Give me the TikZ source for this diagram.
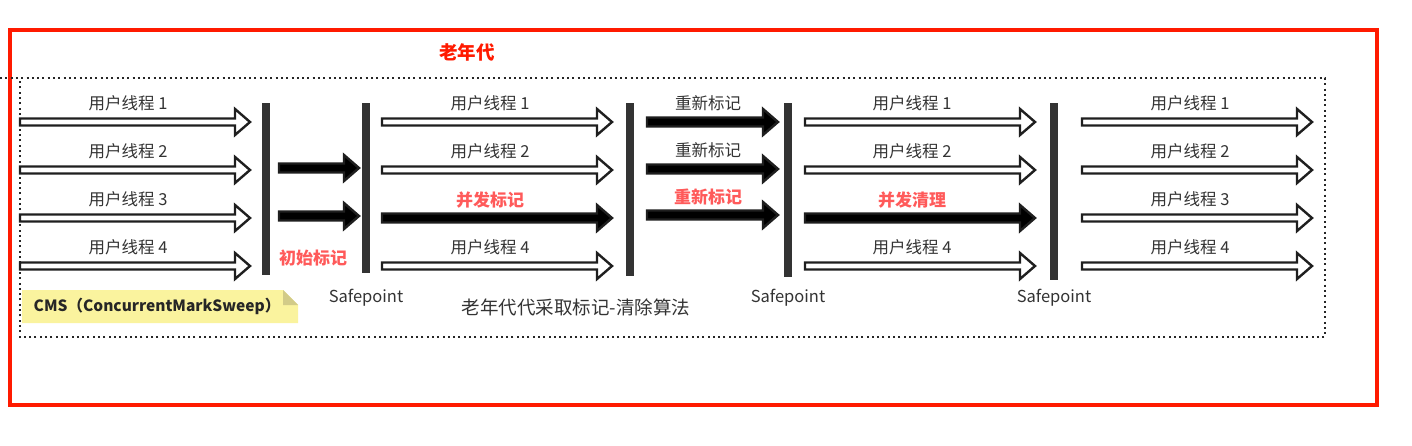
\documentclass[tikz,border=0pt]{standalone}
\usepackage{fontspec}
\setmainfont{Noto Sans CJK SC}
\definecolor{frame}{HTML}{FF1A00}
\definecolor{barc}{HTML}{333333}
\definecolor{hl}{HTML}{FF5A5A}
\definecolor{notec}{HTML}{FAF39E}
\definecolor{foldc}{HTML}{D2CB88}
\definecolor{txt}{HTML}{333333}
\newcommand\tharrow[5]{% x1, x2, y, fill, half shaft
  \filldraw[line width=2.4pt, draw=black!88, fill=#4, line join=miter]
    (#1,{#3-#5}) -- ({#2-15},{#3-#5}) -- ({#2-15},{#3-13}) -- (#2,#3)
    -- ({#2-15},{#3+13}) -- ({#2-15},{#3+#5}) -- (#1,{#3+#5}) -- cycle;}
\begin{document}
\begin{tikzpicture}[x=1pt,y=-1pt,
  lbl/.style={font=\fontsize{16.5}{19}\selectfont, text=txt, inner sep=0},
  hllbl/.style={font=\fontsize{17}{20}\selectfont\bfseries, text=hl, inner sep=0},
  bar/.style={fill=barc, draw=none},
  dotbox/.style={draw=black!85, line width=2pt, dash pattern=on 2pt off 3.3pt}]
\useasboundingbox (0,0) rectangle (1412,446);
% outer red frame
\draw[frame, line width=4.5pt] (10,30) rectangle (1377,405);
% dotted box
\draw[dotbox] (0,78) -- (1325,78) -- (1325,337) -- (20,337) -- (20,78);
\node[font=\fontsize{18.5}{22}\selectfont\bfseries, text=frame, inner sep=0] (title) at (467,52) {老年代};
% bars
\fill[bar] (262,103) rectangle (270,275);
\fill[bar] (362,103) rectangle (370,273);
\fill[bar] (626,103) rectangle (634,276);
\fill[bar] (784,103) rectangle (792,277);
\fill[bar] (1050,103) rectangle (1058,280);
% section A
\foreach \y/\n in {122/1,170/2,218/3,266/4}{
  \tharrow{20}{250}{\y}{white}{3.5}
  \node[lbl] (a\n) at (128,\y-19) {用户线程 \n};
}
\tharrow{279}{359}{168}{black}{4.5}
\tharrow{279}{359}{216}{black}{4.5}
\node[hllbl] (init) at (313,258) {初始标记};
% section B
\foreach \y/\n in {122/1,170/2,266/4}{
  \tharrow{382}{612}{\y}{white}{3.5}
  \node[lbl] (b\n) at (490,\y-19) {用户线程 \n};
}
\tharrow{382}{612}{218}{black}{4.5}
\node[hllbl] (conc) at (490,200) {并发标记};
% section C
\foreach \y/\n in {122/1,169/2}{
  \tharrow{647}{778}{\y}{black}{4.5}
  \node[lbl] (c\n) at (708,\y-19) {重新标记};
}
\tharrow{647}{778}{215}{black}{4.5}
\node[hllbl] (remark) at (708,197) {重新标记};
% section D
\foreach \y/\n in {122/1,170/2,266/4}{
  \tharrow{805}{1035}{\y}{white}{3.5}
  \node[lbl] (d\n) at (912,\y-19) {用户线程 \n};
}
\tharrow{805}{1035}{218}{black}{4.5}
\node[hllbl] (sweep) at (912,200) {并发清理};
% section E
\foreach \y/\n in {122/1,170/2,218/3,266/4}{
  \tharrow{1082}{1312}{\y}{white}{3.5}
  \node[lbl] (e\n) at (1190,\y-19) {用户线程 \n};
}
% safepoint labels
\node[lbl] (sp1) at (366,298) {Safepoint};
\node[lbl] (sp2) at (788,298) {Safepoint};
\node[lbl] (sp3) at (1054,298) {Safepoint};
\node[font=\fontsize{18.5}{22}\selectfont, text=txt, inner sep=0] (algo) at (576,307) {老年代代采取标记-清除算法};
% CMS note
\fill[notec] (22,290) -- (283,290) -- (298,305) -- (298,323) -- (22,323) -- cycle;
\fill[foldc] (283,290) -- (298,305) -- (283,305) -- cycle;
\node[font=\fontsize{15.5}{18}\selectfont\bfseries, text=black!85, inner sep=0] (cms) at (157,306) {CMS（ConcurrentMarkSweep）};
\end{tikzpicture}
\end{document}
